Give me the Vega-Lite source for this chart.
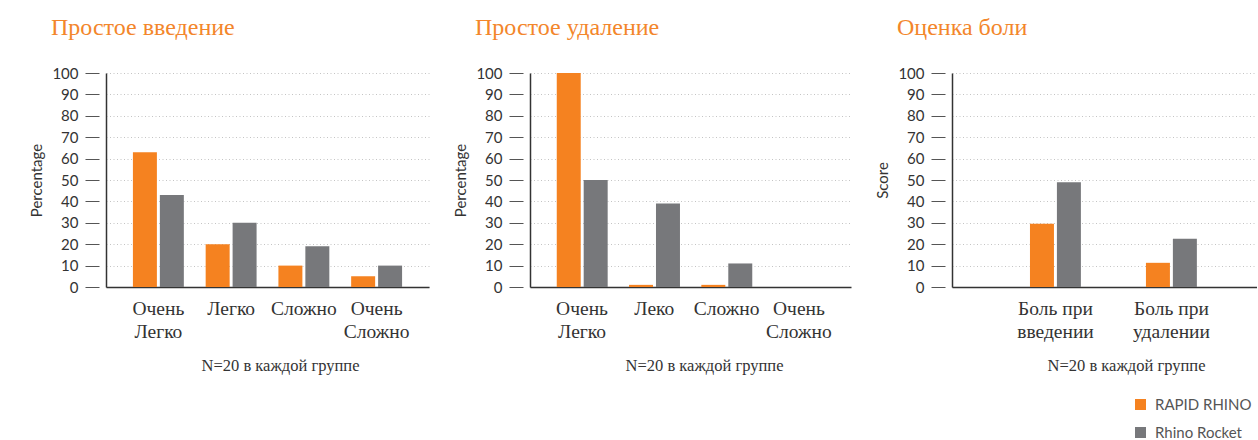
{
  "$schema": "https://vega.github.io/schema/vega-lite/v6.json",
  "background": "white",
  "padding": {"left": 29, "top": 16, "right": 0, "bottom": 0},
  "bounds": "flush",
  "spacing": 101,
  "datasets": {
    "d": [
      {"panel": "p1", "category": "Очень Легко", "series": "RAPID RHINO", "value": 63},
      {"panel": "p1", "category": "Очень Легко", "series": "Rhino Rocket", "value": 43},
      {"panel": "p1", "category": "Легко", "series": "RAPID RHINO", "value": 20},
      {"panel": "p1", "category": "Легко", "series": "Rhino Rocket", "value": 30},
      {"panel": "p1", "category": "Сложно", "series": "RAPID RHINO", "value": 10},
      {"panel": "p1", "category": "Сложно", "series": "Rhino Rocket", "value": 19},
      {"panel": "p1", "category": "Очень Сложно", "series": "RAPID RHINO", "value": 5},
      {"panel": "p1", "category": "Очень Сложно", "series": "Rhino Rocket", "value": 10},
      {"panel": "p2", "category": "Очень Легко", "series": "RAPID RHINO", "value": 100},
      {"panel": "p2", "category": "Очень Легко", "series": "Rhino Rocket", "value": 50},
      {"panel": "p2", "category": "Леко", "series": "RAPID RHINO", "value": 1},
      {"panel": "p2", "category": "Леко", "series": "Rhino Rocket", "value": 39},
      {"panel": "p2", "category": "Сложно", "series": "RAPID RHINO", "value": 1},
      {"panel": "p2", "category": "Сложно", "series": "Rhino Rocket", "value": 11},
      {"panel": "p2", "category": "Очень Сложно", "series": "RAPID RHINO", "value": 0},
      {"panel": "p2", "category": "Очень Сложно", "series": "Rhino Rocket", "value": 0},
      {"panel": "p3", "category": "Боль при введении", "series": "RAPID RHINO", "value": 29.5},
      {"panel": "p3", "category": "Боль при введении", "series": "Rhino Rocket", "value": 49},
      {"panel": "p3", "category": "Боль при удалении", "series": "RAPID RHINO", "value": 11.3},
      {"panel": "p3", "category": "Боль при удалении", "series": "Rhino Rocket", "value": 22.5}
    ]
  },
  "config": {
    "view": {"stroke": null},
    "axisY": {
      "domainColor": "#333333", "domainWidth": 1.5,
      "tickColor": "#555555", "tickSize": 21, "tickDash": [0, 7, 14, 0], "tickWidth": 1.2,
      "labelFont": "Lato", "labelFontSize": 15, "labelColor": "#333333", "labelPadding": 7,
      "titleFont": "Lato", "titleFontSize": 15, "titleFontWeight": "normal", "titleColor": "#333333", "titlePadding": 7,
      "grid": true, "gridColor": "#c4c4c4", "gridDash": [1, 2.5], "gridWidth": 1
    },
    "axisX": {
      "domainColor": "#333333", "domainWidth": 1.5, "ticks": false, "labelAngle": 0,
      "labelFont": "Liberation Serif", "labelFontSize": 19.5, "labelColor": "#333333", "labelLineHeight": 23, "labelPadding": 12, "labelBaseline": "top",
      "titleFont": "Liberation Serif", "titleFontSize": 16.5, "titleFontWeight": "normal", "titleColor": "#333333",
      "titleX": 174, "titleY": 78, "titleBaseline": "middle", "titleAlign": "center", "grid": false
    },
    "title": {
      "font": "Liberation Serif", "fontSize": 24, "fontWeight": "normal", "color": "#F3862B",
      "anchor": "start", "frame": "group", "dx": -55, "baseline": "alphabetic", "offset": 26
    },
    "legend": {
      "orient": "none", "legendX": 1027, "legendY": 324, "title": null,
      "symbolType": "square", "symbolSize": 121, "symbolStrokeWidth": 0,
      "labelFont": "Lato", "labelFontSize": 15, "labelColor": "#555555", "labelOffset": 7, "rowPadding": 12
    }
  },
  "hconcat": [
    {
      "width": 323, "height": 214,
      "title": {"text": "Простое введение"},
      "data": {"name": "d"},
      "transform": [{"filter": "datum.panel == 'p1'"}],
      "mark": {"type": "bar"},
      "encoding": {
        "x": {"field": "category", "type": "nominal", "sort": ["Очень Легко", "Легко", "Сложно", "Очень Сложно"],
          "scale": {"paddingInner": 0.3, "paddingOuter": 0.37},
          "axis": {"title": "N=20 в каждой группе", "labelExpr": "indexof(datum.label, ' ') < 0 ? datum.label : [slice(datum.label, 0, lastindexof(datum.label, ' ')), slice(datum.label, lastindexof(datum.label, ' ') + 1)]"}},
        "xOffset": {"field": "series", "type": "nominal", "sort": ["RAPID RHINO", "Rhino Rocket"], "scale": {"paddingInner": 0.11, "paddingOuter": 0}},
        "y": {"field": "value", "type": "quantitative", "scale": {"domain": [0, 100], "nice": false},
          "axis": {"title": "Percentage", "values": [0, 10, 20, 30, 40, 50, 60, 70, 80, 90, 100]}},
        "color": {"field": "series", "type": "nominal", "scale": {"domain": ["RAPID RHINO", "Rhino Rocket"], "range": ["#F58220", "#77787B"]}}
      }
    },
    {
      "width": 321, "height": 214,
      "title": {"text": "Простое удаление"},
      "data": {"name": "d"},
      "transform": [{"filter": "datum.panel == 'p2'"}],
      "mark": {"type": "bar"},
      "encoding": {
        "x": {"field": "category", "type": "nominal", "sort": ["Очень Легко", "Леко", "Сложно", "Очень Сложно"],
          "scale": {"paddingInner": 0.3, "paddingOuter": 0.37},
          "axis": {"title": "N=20 в каждой группе", "labelExpr": "indexof(datum.label, ' ') < 0 ? datum.label : [slice(datum.label, 0, lastindexof(datum.label, ' ')), slice(datum.label, lastindexof(datum.label, ' ') + 1)]"}},
        "xOffset": {"field": "series", "type": "nominal", "sort": ["RAPID RHINO", "Rhino Rocket"], "scale": {"paddingInner": 0.11, "paddingOuter": 0}},
        "y": {"field": "value", "type": "quantitative", "scale": {"domain": [0, 100], "nice": false},
          "axis": {"title": "Percentage", "values": [0, 10, 20, 30, 40, 50, 60, 70, 80, 90, 100]}},
        "color": {"field": "series", "type": "nominal", "scale": {"domain": ["RAPID RHINO", "Rhino Rocket"], "range": ["#F58220", "#77787B"]}}
      }
    },
    {
      "width": 305, "height": 214,
      "title": {"text": "Оценка боли"},
      "data": {"name": "d"},
      "transform": [{"filter": "datum.panel == 'p3'"}],
      "mark": {"type": "bar"},
      "encoding": {
        "x": {"field": "category", "type": "nominal", "sort": ["Боль при введении", "Боль при удалении"],
          "scale": {"paddingInner": 0.56, "paddingOuter": 0.595, "align": 0.565},
          "axis": {"title": "N=20 в каждой группе", "labelExpr": "indexof(datum.label, ' ') < 0 ? datum.label : [slice(datum.label, 0, lastindexof(datum.label, ' ')), slice(datum.label, lastindexof(datum.label, ' ') + 1)]"}},
        "xOffset": {"field": "series", "type": "nominal", "sort": ["RAPID RHINO", "Rhino Rocket"], "scale": {"paddingInner": 0.11, "paddingOuter": 0}},
        "y": {"field": "value", "type": "quantitative", "scale": {"domain": [0, 100], "nice": false},
          "axis": {"title": "Score", "values": [0, 10, 20, 30, 40, 50, 60, 70, 80, 90, 100]}},
        "color": {"field": "series", "type": "nominal", "scale": {"domain": ["RAPID RHINO", "Rhino Rocket"], "range": ["#F58220", "#77787B"]}}
      }
    }
  ]
}
